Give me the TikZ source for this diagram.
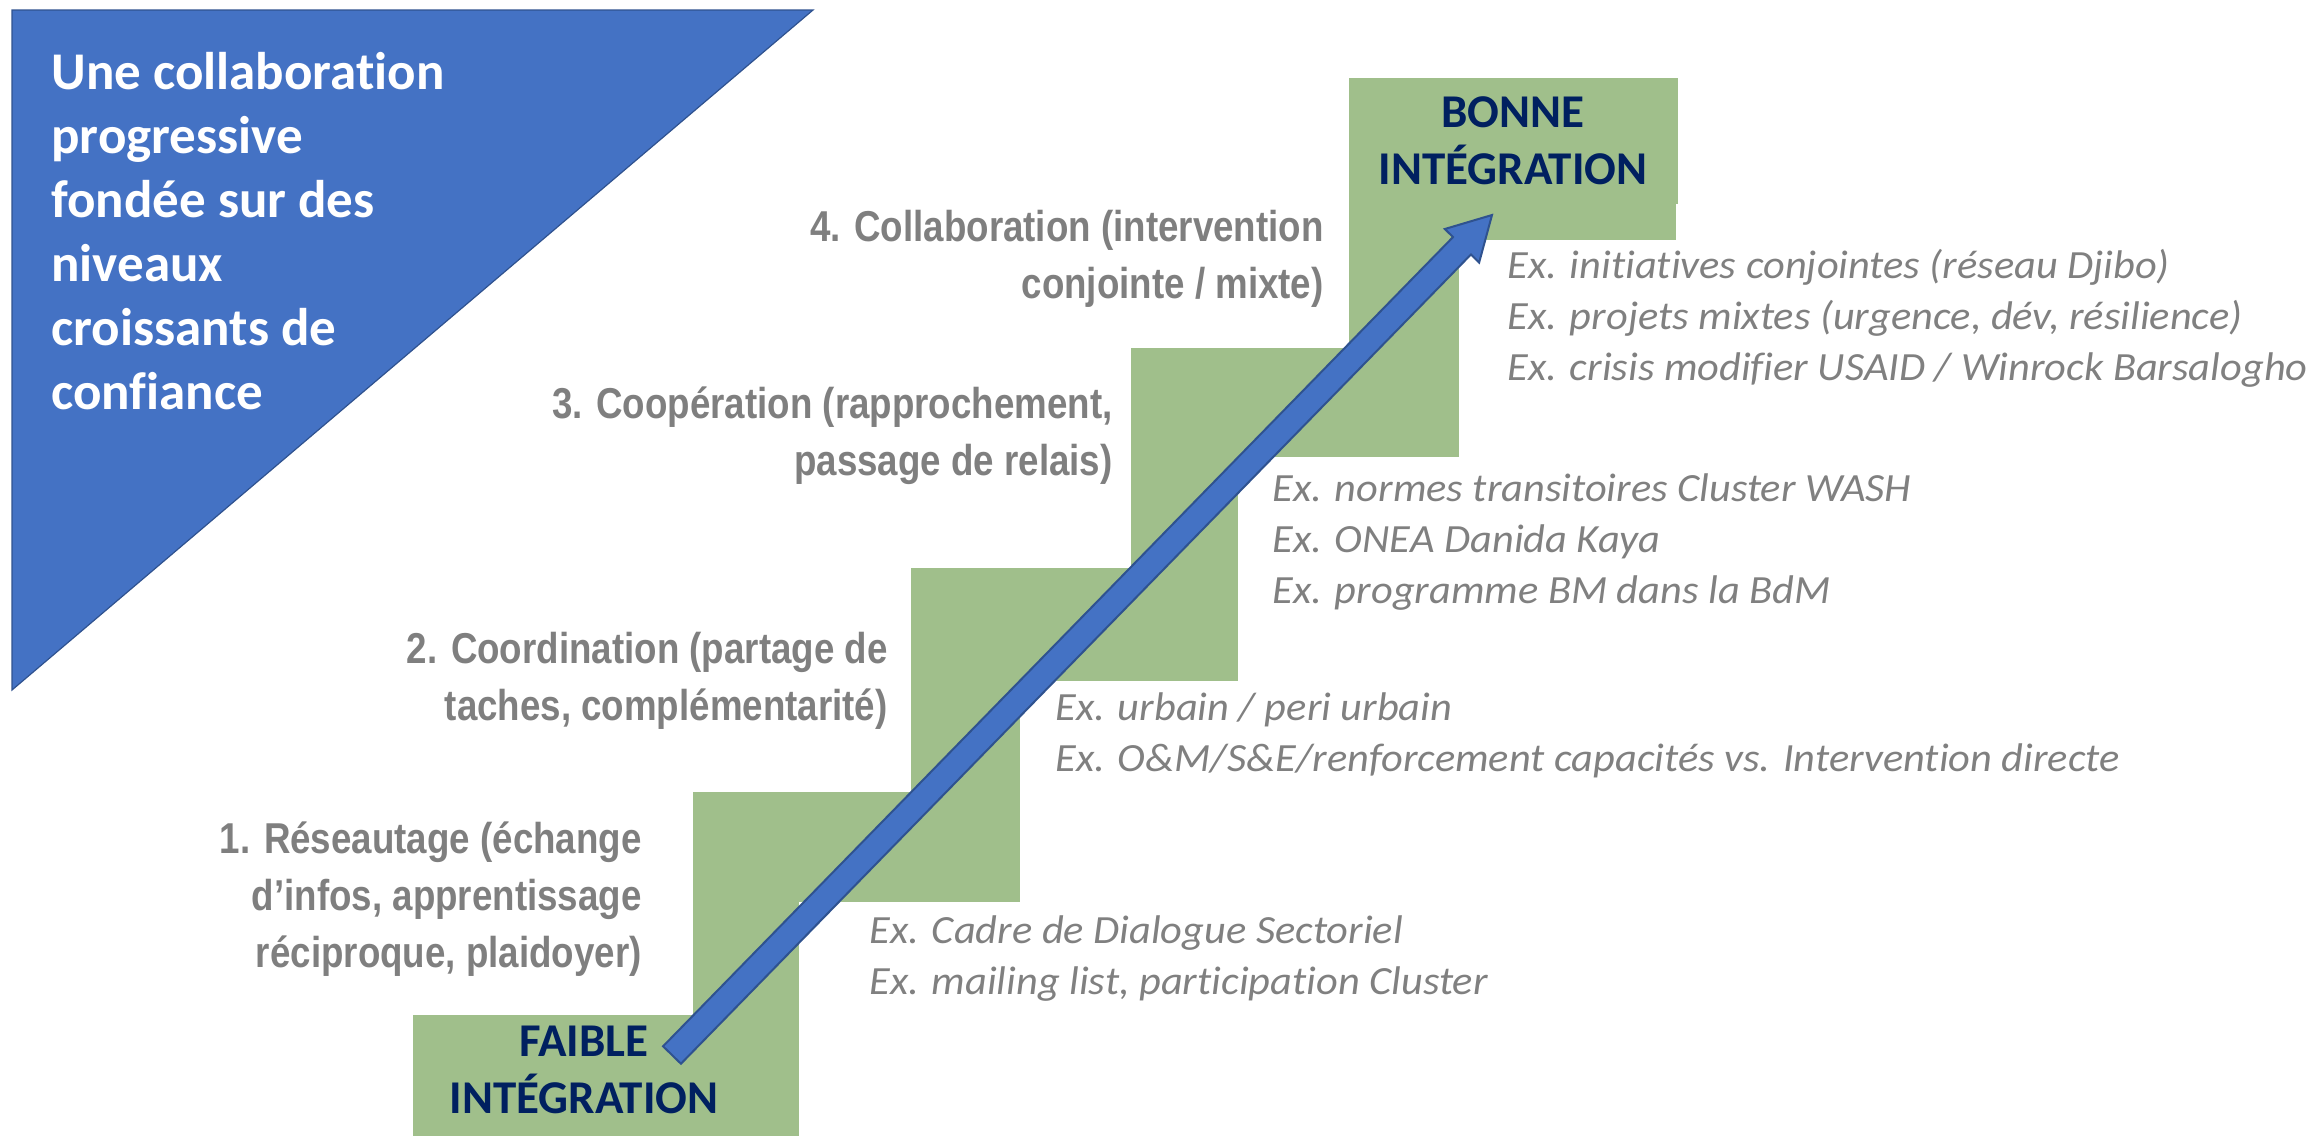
\documentclass[tikz,border=0pt]{standalone}
\usepackage{fontspec}
\setmainfont{Carlito}[Ligatures=NoCommon]
\newfontfamily\exfamily{Carlito}[FakeStretch=1.06,Ligatures=NoCommon]
\newfontface\condbold[FakeStretch=0.85]{Liberation Sans Bold}
\usepackage{tikz}
\usetikzlibrary{calc}
\definecolor{stairgreen}{RGB}{160,191,139}
\definecolor{arrowblue}{RGB}{68,114,196}
\definecolor{edgeblue}{RGB}{47,82,143}
\definecolor{navy}{RGB}{0,32,96}
\definecolor{labelgray}{RGB}{127,127,127}
\definecolor{examplegray}{RGB}{128,128,128}

\begin{document}
\begin{tikzpicture}[x=0.5pt, y=-0.5pt,
        stair/.style={fill=stairgreen},
        bluepart/.style={fill=arrowblue, draw=edgeblue, line width=1pt, line join=miter},
        levelname/.style={text=navy, align=center, inner sep=0pt, font=\fontsize{23.5}{28.5}\selectfont\bfseries},
        level/.style={text=labelgray, align=right, inner sep=0pt, anchor=base east, font=\fontsize{21.6}{28.5}\selectfont\condbold},
        example/.style={text=examplegray, align=left, inner sep=0pt, anchor=base west, font=\fontsize{20}{25.5}\selectfont\exfamily\itshape},
        titletext/.style={text=white, align=left, inner sep=0pt, anchor=base west, font=\fontsize{26.5}{32}\selectfont\bfseries},
    ]
    \useasboundingbox (0,0) rectangle (2312,1136);
    % Titre
    \filldraw[bluepart, line width=0.6pt] (12,10) -- (813,10) -- (12,690) -- cycle;
    \node[titletext] (title) at (51,409) {Une collaboration\\progressive\\fondée sur des\\niveaux\\croissants de\\confiance};
    % Marche 0
    \fill[stair] (413,1015) rectangle (799,1136);
    % Marche 1
    \fill[stair] (693,792) rectangle (1020,902);
    \fill[stair] (693,792) rectangle (799,1015);
    % Marche 2
    \fill[stair] (911,568) rectangle (1238,681);
    \fill[stair] (911,568) rectangle (1020,792);
    % Marche 3
    \fill[stair] (1131,348) rectangle (1459,457);
    \fill[stair] (1131,348) rectangle (1238,568);
    % Marche 4
    \fill[stair] (1349,78) rectangle (1678,204);
    \fill[stair] (1349,204) rectangle (1676,240);
    \fill[stair] (1349,204) rectangle (1459,348);
    \node[levelname] (faible) at (584,1070) {FAIBLE\\INTÉGRATION};
    \node[levelname] (bonne) at (1513,141) {BONNE\\INTÉGRATION};
    % Flèche
    \coordinate (tail) at (672,1055);
    \coordinate (tip) at (1492,215);
    \coordinate (neck) at ($(tip)!21.5pt!(tail)$);
    \filldraw[bluepart] ($(tail)!6.25pt!90:(tip)$) -- ($(neck)!6.25pt!90:(tip)$) -- ($(neck)!12pt!90:(tip)$) -- (tip)
        -- ($(neck)!12pt!-90:(tip)$) -- ($(neck)!6.25pt!-90:(tip)$) -- ($(tail)!6.25pt!-90:(tip)$) -- cycle;
    % Niveaux
    \node[level] (lvl4) at (1324,298) {4. Collaboration (intervention\\conjointe / mixte)};
    \node[level] (lvl3) at (1113,475) {3. Coopération (rapprochement,\\passage de relais)};
    \node[level] (lvl2) at (888,720) {2. Coordination (partage de\\taches, complémentarité)};
    \node[level] (lvl1) at (642,967) {1. Réseautage (échange\\d’infos, apprentissage\\réciproque, plaidoyer)};
    % Exemples
    \node[example] (ex4) at (1507,380) {Ex. initiatives conjointes (réseau Djibo)\\Ex. projets mixtes (urgence, dév, résilience)\\Ex. crisis modifier USAID / Winrock Barsalogho};
    \node[example] (ex3) at (1272,603) {Ex. normes transitoires Cluster WASH\\Ex. ONEA Danida Kaya\\Ex. programme BM dans la BdM};
    \node[example] (ex2) at (1055,771) {Ex. urbain / peri urbain\\Ex. O\&M/S\&E/renforcement capacités vs. Intervention directe};
    \node[example] (ex1) at (869,994) {Ex. Cadre de Dialogue Sectoriel\\Ex. mailing list, participation Cluster};
\end{tikzpicture}
\end{document}
